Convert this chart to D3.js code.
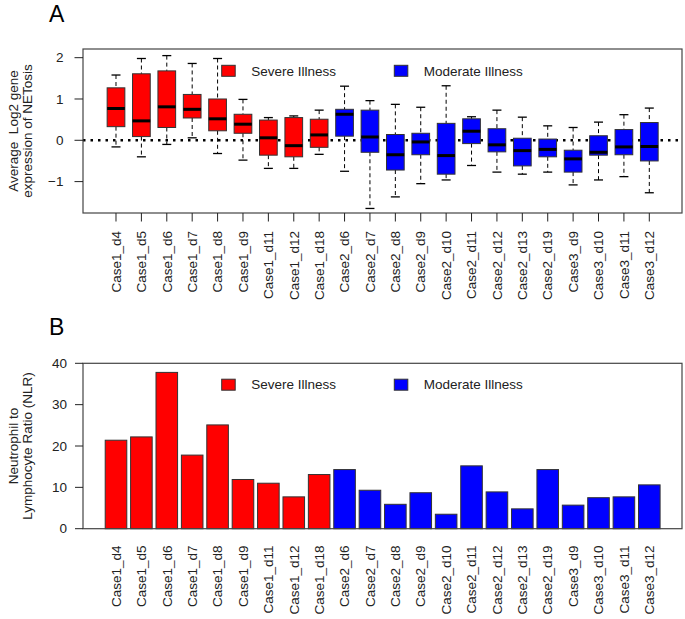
<!DOCTYPE html>
<html>
<head>
<meta charset="utf-8">
<script src="https://cdn.jsdelivr.net/npm/d3@7"></script>
<style>
  body { margin: 0; background: #fff; }
  svg { font-family: "Liberation Sans", Arial, Helvetica, sans-serif; }
  text { white-space: pre; }
</style>
</head>
<body>
<div class="d3target"></div>
<script>
'use strict';

// sample labels, same for both panels
var cases = ['Case1_d4', 'Case1_d5', 'Case1_d6', 'Case1_d7', 'Case1_d8', 'Case1_d9',
  'Case1_d11', 'Case1_d12', 'Case1_d18', 'Case2_d6', 'Case2_d7', 'Case2_d8', 'Case2_d9',
  'Case2_d10', 'Case2_d11', 'Case2_d12', 'Case2_d13', 'Case2_d19', 'Case3_d9',
  'Case3_d10', 'Case3_d11', 'Case3_d12'];
var severity = ['S', 'S', 'S', 'S', 'S', 'S', 'S', 'S', 'S',
  'M', 'M', 'M', 'M', 'M', 'M', 'M', 'M', 'M', 'M', 'M', 'M', 'M'];

// panel A box stats
var whiskHigh = [1.58, 1.98, 2.05, 1.86, 1.98, 0.99, 0.55, 0.59, 0.73, 1.31, 0.96, 0.87, 0.80,
  1.32, 0.57, 0.73, 0.56, 0.35, 0.31, 0.44, 0.62, 0.78];
var q3 = [1.27, 1.61, 1.68, 1.11, 1.00, 0.63, 0.49, 0.55, 0.51, 0.75, 0.73, 0.14, 0.17,
  0.41, 0.52, 0.28, 0.05, 0.03, -0.24, 0.11, 0.26, 0.43];
var medians = [0.77, 0.47, 0.81, 0.75, 0.52, 0.39, 0.06, -0.13, 0.13, 0.63, 0.08, -0.35, -0.04,
  -0.37, 0.22, -0.11, -0.25, -0.22, -0.45, -0.29, -0.16, -0.15];
var q1 = [0.33, 0.09, 0.31, 0.54, 0.23, 0.17, -0.36, -0.40, -0.17, 0.10, -0.29, -0.72, -0.35,
  -0.82, -0.08, -0.28, -0.62, -0.40, -0.77, -0.36, -0.35, -0.50];
var whiskLow = [-0.16, -0.40, -0.10, 0.06, -0.32, -0.48, -0.68, -0.68, -0.34, -0.75, -1.65, -1.37, -1.05,
  -0.96, -0.61, -0.77, -0.82, -0.77, -1.08, -0.96, -0.88, -1.27];
var yTicksA = [-1, 0, 1, 2];

// panel B values
var nlr = [21.4, 22.2, 37.8, 17.8, 25.1, 11.9, 11.0, 7.7, 13.1, 14.3, 9.3, 5.9, 8.7,
  3.5, 15.2, 8.9, 4.8, 14.3, 5.7, 7.5, 7.7, 10.6];
var yTicksB = [0, 10, 20, 30, 40];

var legendLabels = ['Severe Illness', 'Moderate Illness'];
var colors = { S: '#ff0000', M: '#0000ff' };

var W = 685, H = 619;
var left = 83, right = 682;

var svg = d3.select('.d3target').append('svg')
  .attr('width', W).attr('height', H);

var x = d3.scaleBand()
  .domain(cases)
  .range([103.3, 662])
  .paddingInner(0.15)
  .paddingOuter(0.075);
var cx = function(c) { return x(c) + x.bandwidth() / 2; };

var stroke = '#333';
var fs = '13.5px';

// ---------- panel A ----------
var topA = 49, botA = 213;
var yA = d3.scaleLinear().domain([-1.76, 2.21]).range([botA, topA]);

svg.append('text').attr('x', 49).attr('y', 22).attr('font-size', '23px').text('A');

var boxes = cases.map(function(c, i) {
  return { name: c, sev: severity[i], hi: whiskHigh[i], q3: q3[i], med: medians[i], q1: q1[i], lo: whiskLow[i] };
});

// zero reference line
svg.append('line')
  .attr('x1', left).attr('x2', right)
  .attr('y1', yA(0)).attr('y2', yA(0))
  .attr('stroke', '#000').attr('stroke-width', 2.5)
  .attr('stroke-dasharray', '2.5,5');

var bw = 8.85, cap = 4.5;
var g = svg.append('g').selectAll('g').data(boxes).enter().append('g');

g.append('line')
  .attr('x1', function(d) { return cx(d.name); }).attr('x2', function(d) { return cx(d.name); })
  .attr('y1', function(d) { return yA(d.hi); }).attr('y2', function(d) { return yA(d.q3); })
  .attr('stroke', '#000').attr('stroke-dasharray', '4,3');
g.append('line')
  .attr('x1', function(d) { return cx(d.name); }).attr('x2', function(d) { return cx(d.name); })
  .attr('y1', function(d) { return yA(d.q1); }).attr('y2', function(d) { return yA(d.lo); })
  .attr('stroke', '#000').attr('stroke-dasharray', '4,3');
g.append('line')
  .attr('x1', function(d) { return cx(d.name) - cap; }).attr('x2', function(d) { return cx(d.name) + cap; })
  .attr('y1', function(d) { return yA(d.hi); }).attr('y2', function(d) { return yA(d.hi); })
  .attr('stroke', '#000').attr('stroke-width', 1.3);
g.append('line')
  .attr('x1', function(d) { return cx(d.name) - cap; }).attr('x2', function(d) { return cx(d.name) + cap; })
  .attr('y1', function(d) { return yA(d.lo); }).attr('y2', function(d) { return yA(d.lo); })
  .attr('stroke', '#000').attr('stroke-width', 1.3);
g.append('rect')
  .attr('x', function(d) { return cx(d.name) - bw; })
  .attr('width', bw * 2)
  .attr('y', function(d) { return yA(d.q3); })
  .attr('height', function(d) { return yA(d.q1) - yA(d.q3); })
  .attr('fill', function(d) { return colors[d.sev]; })
  .attr('stroke', stroke).attr('stroke-width', 1);
g.append('line')
  .attr('x1', function(d) { return cx(d.name) - bw; }).attr('x2', function(d) { return cx(d.name) + bw; })
  .attr('y1', function(d) { return yA(d.med); }).attr('y2', function(d) { return yA(d.med); })
  .attr('stroke', '#000').attr('stroke-width', 3);

svg.append('rect')
  .attr('x', left).attr('y', topA).attr('width', right - left).attr('height', botA - topA)
  .attr('fill', 'none').attr('stroke', '#444').attr('stroke-width', 1.2);

// y axis A
svg.selectAll('.tickA').data(yTicksA).enter().append('line')
  .attr('x1', 74.5).attr('x2', left)
  .attr('y1', function(d) { return yA(d); }).attr('y2', function(d) { return yA(d); })
  .attr('stroke', '#222');
svg.selectAll('.tlabA').data(yTicksA).enter().append('text')
  .attr('x', 63.5).attr('y', function(d) { return yA(d); })
  .attr('dy', '0.35em').attr('text-anchor', 'end').attr('font-size', fs).attr('fill', '#222')
  .text(function(d) { return d < 0 ? '\u2212' + Math.abs(d) : d; });

// x ticks A
svg.selectAll('.xtA').data(cases).enter().append('line')
  .attr('x1', cx).attr('x2', cx)
  .attr('y1', botA).attr('y2', 221.5)
  .attr('stroke', '#222');
svg.selectAll('.xlA').data(cases).enter().append('text')
  .attr('transform', function(d) { return 'translate(' + cx(d) + ',231) rotate(-90)'; })
  .attr('dy', '0.35em').attr('text-anchor', 'end').attr('font-size', fs).attr('fill', '#222')
  .text(function(d) { return d; });

var titleA = svg.append('text')
  .attr('transform', 'translate(0,131) rotate(-90)')
  .attr('text-anchor', 'middle').attr('font-size', fs).attr('fill', '#222');
titleA.append('tspan').attr('x', 0).attr('y', 17.5).text('Average  Log2 gene');
titleA.append('tspan').attr('x', 0).attr('y', 32).text('expression of NETosis');

// ---------- panel B ----------
var topB = 363.3, botB = 528.7;
var yB = d3.scaleLinear().domain([0, 40]).range([botB, topB]);

svg.append('text').attr('x', 49).attr('y', 335).attr('font-size', '23px').text('B');

svg.append('g').selectAll('rect').data(cases).enter().append('rect')
  .attr('x', function(d) { return x(d); })
  .attr('width', x.bandwidth())
  .attr('y', function(d, i) { return yB(nlr[i]); })
  .attr('height', function(d, i) { return botB - yB(nlr[i]); })
  .attr('fill', function(d, i) { return colors[severity[i]]; })
  .attr('stroke', stroke).attr('stroke-width', 1);

svg.append('rect')
  .attr('x', left).attr('y', topB).attr('width', right - left).attr('height', botB - topB)
  .attr('fill', 'none').attr('stroke', '#444').attr('stroke-width', 1.2);

svg.selectAll('.tickB').data(yTicksB).enter().append('line')
  .attr('x1', 75).attr('x2', left)
  .attr('y1', function(d) { return yB(d); }).attr('y2', function(d) { return yB(d); })
  .attr('stroke', '#222');
svg.selectAll('.tlabB').data(yTicksB).enter().append('text')
  .attr('x', 67).attr('y', function(d) { return yB(d); })
  .attr('dy', '0.35em').attr('text-anchor', 'end').attr('font-size', fs).attr('fill', '#222')
  .text(function(d) { return d; });

svg.selectAll('.xlB').data(cases).enter().append('text')
  .attr('transform', function(d) { return 'translate(' + cx(d) + ',545.5) rotate(-90)'; })
  .attr('dy', '0.35em').attr('text-anchor', 'end').attr('font-size', fs).attr('fill', '#222')
  .text(function(d) { return d; });

var titleB = svg.append('text')
  .attr('transform', 'translate(0,446) rotate(-90)')
  .attr('text-anchor', 'middle').attr('font-size', fs).attr('fill', '#222');
titleB.append('tspan').attr('x', 0).attr('y', 17.5).text('Neutrophil to');
titleB.append('tspan').attr('x', 0).attr('y', 32).text('Lymphocyte Ratio (NLR)');

// legends
function drawLegend(cy) {
  var lx = [221.7, 394.3];
  ['S', 'M'].forEach(function(k, i) {
    svg.append('rect')
      .attr('x', lx[i]).attr('y', cy - 5.5).attr('width', 13.5).attr('height', 11)
      .attr('fill', colors[k]).attr('stroke', stroke).attr('stroke-width', 1);
    svg.append('text')
      .attr('x', lx[i] + 29.5).attr('y', cy).attr('dy', '0.35em')
      .attr('font-size', fs).attr('fill', '#222')
      .text(legendLabels[i]);
  });
}
drawLegend(70.8);
drawLegend(384.7);
</script>
</body>
</html>
